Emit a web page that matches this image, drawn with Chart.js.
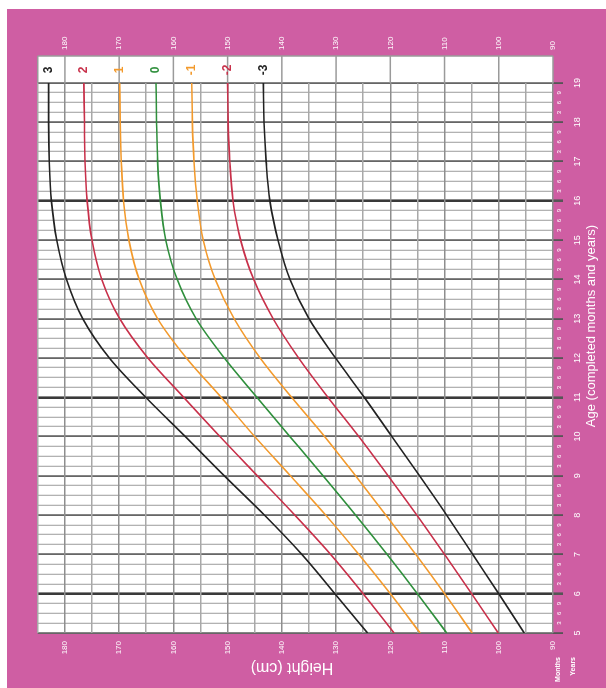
<!DOCTYPE html>
<html>
<head>
<meta charset="utf-8">
<script src="https://cdn.jsdelivr.net/npm/chart.js@4.4.1/dist/chart.umd.min.js"></script>
<style>
    html, body { margin: 0; padding: 0; background: #fff; }
    #wrap {
        position: absolute;
        left: 0;
        top: 0;
        width: 688px;
        height: 606px;
        transform-origin: 0 0;
        transform: translateY(688px) rotate(-90deg);
    }
</style>
</head>
<body>
<div id="wrap"><canvas id="chart" width="688" height="606"></canvas></div>
<script>
// Height-for-age, girls 5-19 years
const ages = [5, 6, 7, 8, 9, 10, 11, 12, 13, 14, 15, 16, 17, 18, 19];
const sdPlus3  = [124.2, 130.2, 136.3, 143.2, 150.6, 157.8, 165.1, 171.8, 176.7, 179.7, 181.5, 182.5, 182.9, 183.0, 183.0];
const sdPlus2  = [119.3, 125.0, 131.0, 137.6, 144.5, 151.4, 158.1, 164.7, 169.9, 173.2, 175.0, 175.9, 176.3, 176.4, 176.5];
const sdPlus1  = [114.5, 120.0, 125.8, 131.9, 138.4, 145.0, 151.2, 157.6, 162.9, 166.3, 168.2, 169.2, 169.6, 169.8, 169.9];
const sdZero   = [109.6, 115.0, 120.6, 126.4, 132.4, 138.5, 144.6, 150.6, 155.8, 159.3, 161.4, 162.4, 162.9, 163.1, 163.2];
const sdMinus1 = [104.9, 110.0, 115.3, 120.8, 126.4, 132.1, 138.2, 144.0, 148.8, 152.3, 154.5, 155.6, 156.2, 156.5, 156.6];
const sdMinus2 = [100.1, 105.0, 110.0, 115.1, 120.4, 125.8, 131.5, 136.9, 141.6, 145.2, 147.6, 149.0, 149.6, 149.9, 150.0];
const sdMinus3 = [95.3, 100.0, 104.8, 109.6, 114.6, 119.7, 124.8, 130.1, 135.0, 138.5, 140.7, 142.2, 142.9, 143.3, 143.4];

const zLabels = ['3', '2', '1', '0', '-1', '-2', '-3'];
const curves = [sdPlus3, sdPlus2, sdPlus1, sdZero, sdMinus1, sdMinus2, sdMinus3];
const colors = ['#222222', '#c8304a', '#f39a2c', '#2f8f3c', '#f39a2c', '#c8304a', '#222222'];

const heightMin = 90;
const heightMax = 185;
const pink = '#cf5ea3';
const font = 'Liberation Sans, Arial, sans-serif';

const datasets = curves.map((vals, i) => ({
    label: zLabels[i],
    data: ages.map((a, j) => ({ x: a, y: vals[j] })),
    borderColor: colors[i],
    borderWidth: 1.6,
    pointRadius: 0,
    fill: false,
    cubicInterpolationMode: 'monotone'
}));

const frame = {
    id: 'frame',
    beforeDraw(chart) {
        const ctx = chart.ctx;
        const a = chart.chartArea;
        ctx.save();
        ctx.fillStyle = '#fff';
        ctx.fillRect(0, 0, chart.width, chart.height);
        ctx.fillStyle = pink;
        ctx.fillRect(0, 7, 679, 599);
        ctx.fillStyle = '#fff';
        ctx.fillRect(a.left, a.top, a.right - a.left + 27, a.bottom - a.top);
        ctx.restore();
    },
    afterDraw(chart) {
        const ctx = chart.ctx;
        const a = chart.chartArea;
        const y = chart.scales.y;
        const colLeft = a.right;
        const colRight = a.right + 27;
        ctx.save();
        // label column
        ctx.strokeStyle = '#9a9a9a';
        ctx.lineWidth = 1.5;
        for (let h = 100; h <= 180; h += 10) {
            const py = y.getPixelForValue(h);
            ctx.beginPath();
            ctx.moveTo(colLeft, py);
            ctx.lineTo(colRight, py);
            ctx.stroke();
        }
        ctx.beginPath();
        ctx.moveTo(colRight, a.top);
        ctx.lineTo(colRight, a.bottom);
        ctx.moveTo(colLeft, a.top);
        ctx.lineTo(colRight, a.top);
        ctx.moveTo(colLeft, a.bottom);
        ctx.lineTo(colRight, a.bottom);
        ctx.stroke();

        // z-score labels at the end of each curve
        ctx.font = 'bold 12px ' + font;
        ctx.textAlign = 'center';
        ctx.textBaseline = 'middle';
        curves.forEach((vals, i) => {
            ctx.fillStyle = colors[i];
            ctx.fillText(zLabels[i], colLeft + 13, y.getPixelForValue(vals[vals.length - 1]));
        });

        // titles
        ctx.fillStyle = '#fff';
        ctx.font = '13px ' + font;
        ctx.fillText('Age (completed months and years)', 362, 591);

        ctx.save();
        ctx.translate(21, 292);
        ctx.rotate(-Math.PI / 2);
        ctx.font = '16px ' + font;
        ctx.fillText('Height (cm)', 0, 0);
        ctx.restore();

        ctx.font = 'bold 7px ' + font;
        ctx.textAlign = 'right';
        ctx.fillText('Months', 31, 558);
        ctx.fillText('Years', 31, 573);
        ctx.restore();
    }
};

const heightTicks = {
    stepSize: 5,
    color: '#fff',
    font: { family: font, size: 8 },
    callback: (v) => (v % 10 === 0 ? String(v) : '')
};

new Chart(document.getElementById('chart').getContext('2d'), {
    type: 'line',
    data: { datasets: datasets },
    plugins: [frame],
    options: {
        responsive: false,
        animation: false,
        layout: { padding: { top: 33, left: 0, right: 0, bottom: 0 } },
        plugins: {
            legend: { display: false },
            tooltip: { enabled: false }
        },
        scales: {
            x: {
                type: 'linear',
                position: 'bottom',
                weight: 0,
                min: 5,
                max: 19,
                border: { display: false },
                grid: {
                    tickLength: 10,
                    color: (c) => {
                        const v = c.tick.value;
                        if (Number.isInteger(v)) return [6, 11, 16].includes(v) ? '#3a3a3a' : '#666';
                        return '#b2b2b2';
                    },
                    lineWidth: (c) => {
                        const v = c.tick.value;
                        if (Number.isInteger(v)) return [6, 11, 16].includes(v) ? 2.6 : 1.8;
                        return 1.3;
                    },
                    tickColor: (c) => (Number.isInteger(c.tick.value) ? '#555' : 'rgba(0,0,0,0)')
                },
                ticks: {
                    stepSize: 0.25,
                    autoSkip: false,
                    maxRotation: 0,
                    padding: -7,
                    color: '#fff',
                    font: { family: font, size: 6 },
                    callback: (v) => (Number.isInteger(v) ? '' : String(Math.round((v % 1) * 12)))
                },
                afterFit: (s) => { s.height = 10; }
            },
            xYears: {
                type: 'linear',
                position: 'bottom',
                weight: 1,
                min: 5,
                max: 19,
                border: { display: false },
                grid: { display: false, drawTicks: false },
                ticks: {
                    stepSize: 1,
                    autoSkip: false,
                    maxRotation: 0,
                    padding: 9,
                    color: '#fff',
                    font: { family: font, size: 9 }
                },
                afterFit: (s) => { s.height = 43; }
            },
            y: {
                type: 'linear',
                position: 'left',
                min: heightMin,
                max: heightMax,
                border: { display: false },
                grid: {
                    drawTicks: false,
                    color: (c) => (c.tick.value % 10 === 0 ? '#8e8e8e' : '#a8a8a8'),
                    lineWidth: 1.6
                },
                ticks: Object.assign({ padding: 8 }, heightTicks),
                afterFit: (s) => { s.width = 55; }
            },
            yRight: {
                type: 'linear',
                position: 'right',
                min: heightMin,
                max: heightMax,
                border: { display: false },
                grid: { drawOnChartArea: false, drawTicks: false },
                ticks: Object.assign({ padding: 33 }, heightTicks),
                afterFit: (s) => { s.width = 83; }
            }
        }
    }
});
</script>
</body>
</html>
